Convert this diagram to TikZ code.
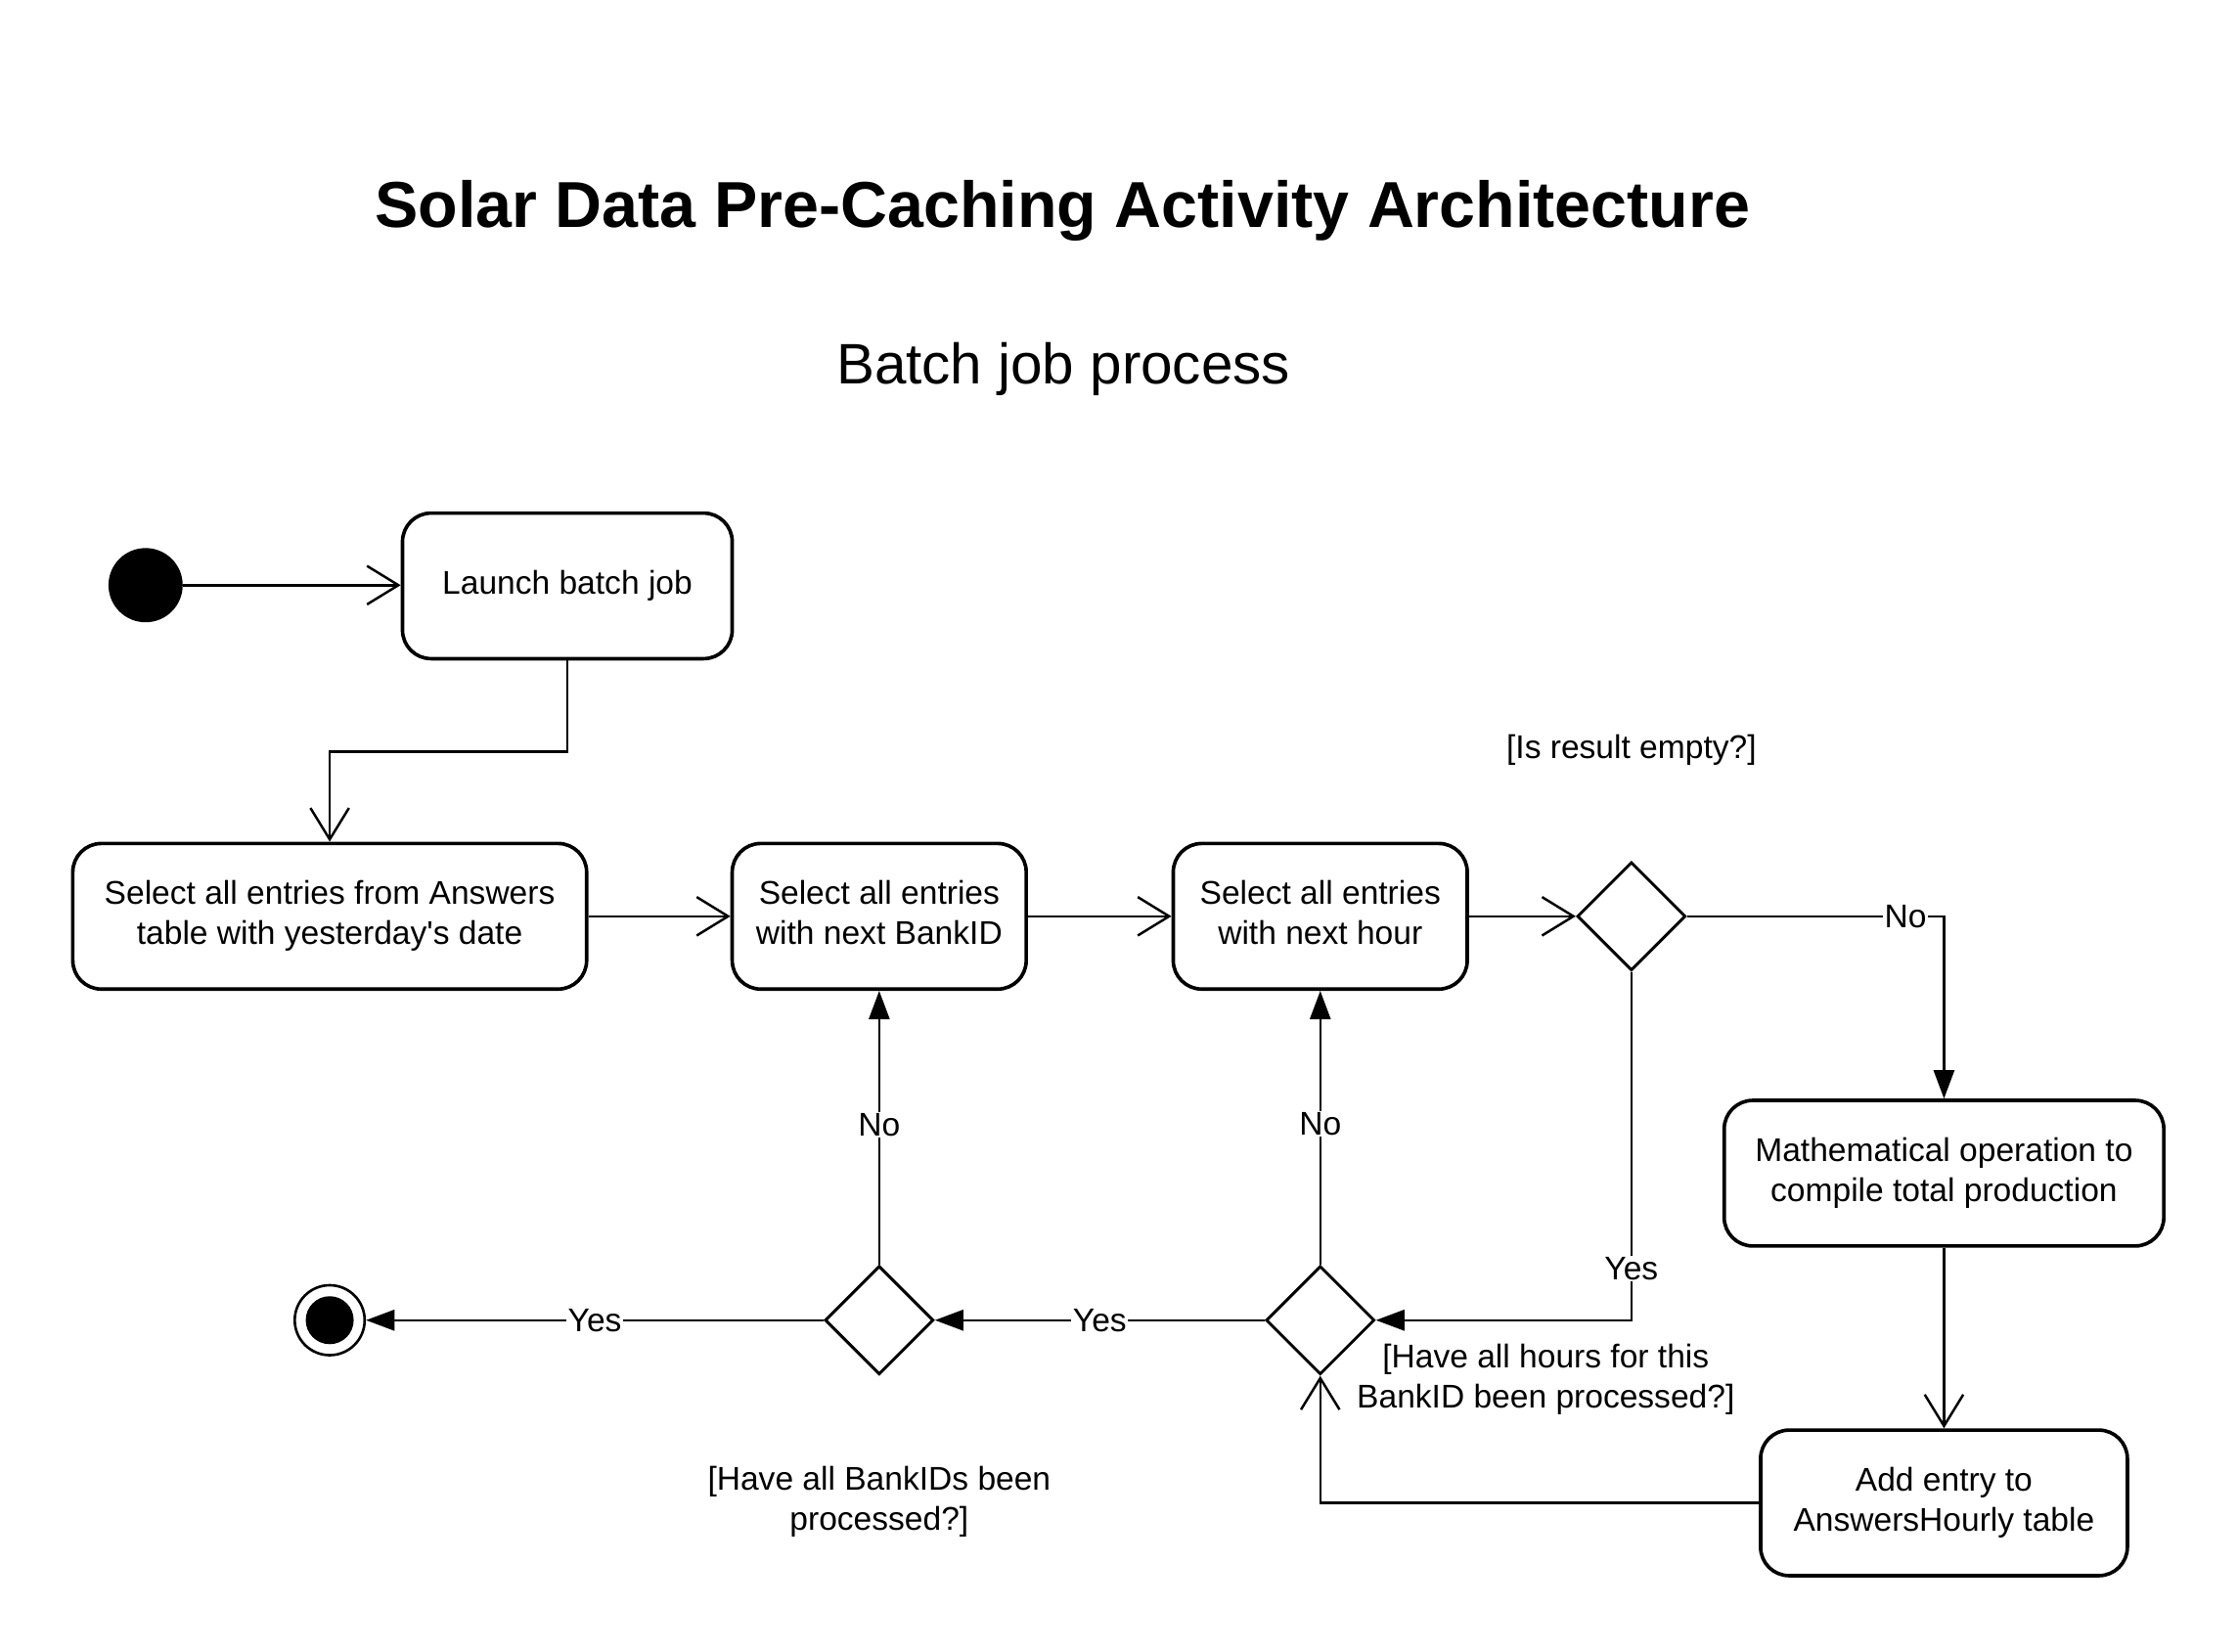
\documentclass[tikz,border=0pt]{standalone}
\usepackage{fontspec}
\setmainfont{Liberation Sans}
\usetikzlibrary{arrows.meta,shapes.geometric}
\tikzset{
  act/.style={draw, rounded corners=20pt, line width=2.5pt, align=center, inner sep=0pt,
    font=\fontsize{23}{28}\selectfont, minimum height=102pt},
  dec/.style={diamond, draw, line width=2pt, minimum width=76pt, minimum height=76pt, inner sep=0pt},
  lbl/.style={font=\fontsize{23}{28}\selectfont, fill=white, inner sep=1pt},
  note/.style={font=\fontsize{23}{28}\selectfont, align=center, inner sep=0pt},
  conn/.style={line width=1.7pt},
  openarr/.style={-{Straight Barb[length=22pt,width=27pt]}},
  filarr/.style={-{Triangle[length=20pt,width=14.5pt]}}
}
\begin{document}
\begin{tikzpicture}[x=1pt,y=-1pt]
\useasboundingbox (0,0) rectangle (1568,1157);
\node[font=\fontsize{45.5}{54}\selectfont\bfseries] (title) at (744.5,147.5) {Solar Data Pre-Caching Activity Architecture};
\node[font=\fontsize{40}{48}\selectfont] (sub) at (745,258.3) {Batch job process};

\node[circle, fill, minimum size=52pt, inner sep=0pt] (start) at (102,410) {};
\node[act, minimum width=231pt] (launch) at (397.5,410.5) {\strut Launch batch job};
\node[act, minimum width=360pt] (sel1) at (231,642) {\strut Select all entries from Answers\\\strut table with yesterday\textquotesingle s date};
\node[act, minimum width=206pt] (sel2) at (616,642) {\strut Select all entries\\\strut with next BankID};
\node[act, minimum width=206pt] (sel3) at (925,642) {\strut Select all entries\\\strut with next hour};
\node[dec] (d1) at (1143,642) {};
\node[act, minimum width=308pt] (math) at (1362,822) {\strut Mathematical operation to\\\strut compile total production};
\node[act, minimum width=257pt] (add) at (1362,1053) {\strut Add entry to\\\strut AnswersHourly table};
\node[dec] (d2) at (925,925) {};
\node[dec] (d3) at (616,925) {};
\node[circle, draw, line width=1.8pt, minimum size=49pt, inner sep=0pt] (end) at (231,925) {};
\node[circle, fill, minimum size=33.6pt, inner sep=0pt] (endin) at (end.center) {};

\node[note] (n1) at (1143,525.6) {\strut [Is result empty?]};
\node[note] (n2) at (1083,966.6) {\strut [Have all hours for this\\\strut BankID been processed?]};
\node[note] (n3) at (616,1052.6) {\strut [Have all BankIDs been\\\strut processed?]};

\draw[conn,openarr] (start.east) -- (start.east -| launch.west);
\draw[conn,openarr] (launch.south) -- ++(0,64) -| (sel1.north);
\draw[conn,openarr] (sel1) -- (sel2);
\draw[conn,openarr] (sel2) -- (sel3);
\draw[conn,openarr] (sel3) -- (d1);
\draw[conn,filarr] (d1.east) -| node[lbl,pos=0.425]{No} (math.north);
\draw[conn,openarr] (math) -- (add);
\draw[conn,openarr] (add.west) -| (d2.south);
\draw[conn,filarr] (d1.south) |- node[lbl,pos=0.426]{Yes} (d2.east);
\draw[conn,filarr] (d2) -- node[lbl,pos=0.515]{No} (sel3);
\draw[conn,filarr] (d2) -- node[lbl]{Yes} (d3);
\draw[conn,filarr] (d3) -- node[lbl,pos=0.51]{No} (sel2);
\draw[conn,filarr] (d3) -- node[lbl]{Yes} (end);
\end{tikzpicture}
\end{document}
